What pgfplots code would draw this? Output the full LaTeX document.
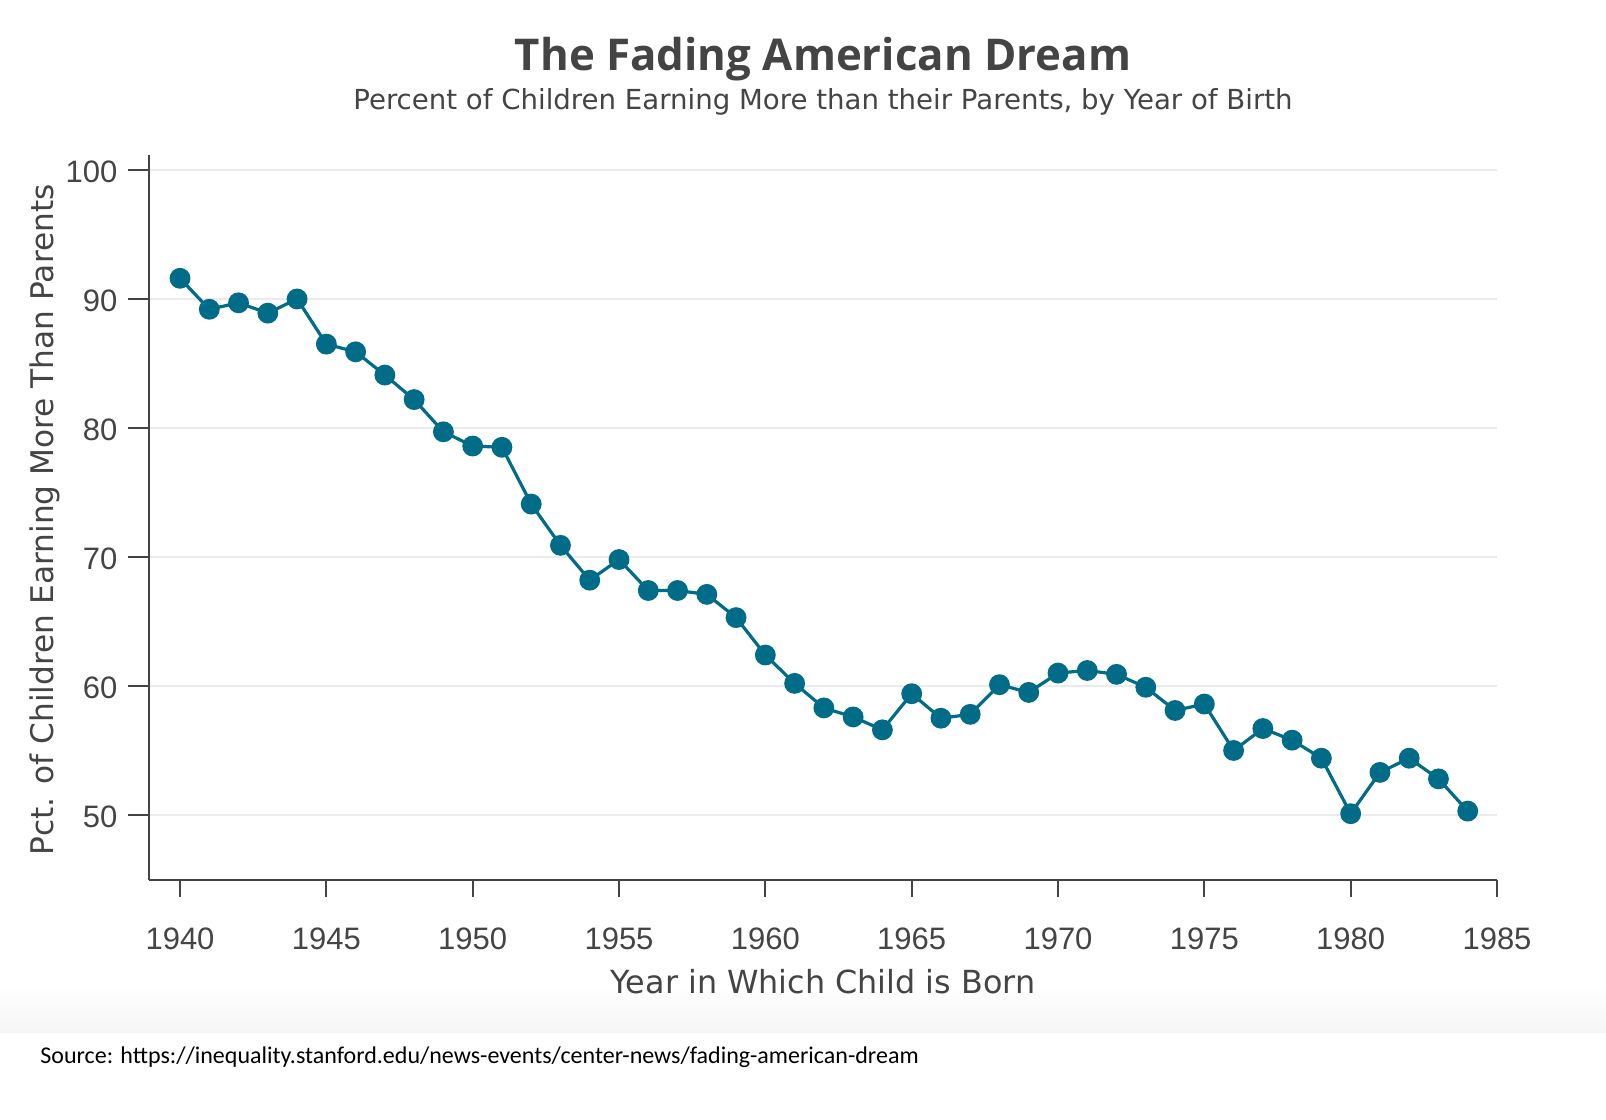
\documentclass[border=0pt]{standalone}
\usepackage{pgfplots}
\pgfplotsset{compat=1.18}
\usepackage{fontspec}
\setmainfont{Liberation Sans}
\newfontfamily\dejavu{DejaVu Sans}
\newfontfamily\opensans{Open Sans}
\newfontfamily\carlito{Carlito}

\definecolor{lineteal}{RGB}{0,108,135}
\definecolor{txt}{HTML}{444444}
\definecolor{gridc}{HTML}{EBEBEB}

\begin{document}
\begin{tikzpicture}[x=1pt,y=1pt]
% canvas, 1px = 0.5pt
\useasboundingbox (0,0) rectangle (803,559.5);
\fill[white] (0,0) rectangle (803,559.5);
\shade[top color=white, bottom color=black!4] (0,43) rectangle (803,67);

\begin{axis}[
    at={(74.5pt,119.5pt)}, anchor=south west,
    scale only axis,
    width=674pt, height=362.5pt,
    xmin=1938.94, xmax=1985,
    ymin=44.96, ymax=101.16,
    axis lines=left,
    axis line style={-, draw=txt, line width=1pt},
    xtick={1940,1945,...,1985},
    ytick={50,60,...,100},
    tick align=outside,
    tick style={draw=txt, line width=1pt},
    xtick style={/pgfplots/major tick length=8.5pt},
    ytick style={/pgfplots/major tick length=10.5pt},
    ymajorgrids,
    major grid style={draw=gridc, line width=0.8pt},
    tick label style={font=\fontsize{15.5}{15.5}\selectfont, text=txt},
    /pgf/number format/assume math mode=true,
    x tick label style={/pgf/number format/.cd, 1000 sep={}, /tikz/yshift=-16pt},
    y tick label style={xshift=-8pt, yshift=-1pt},
    clip=false,
]
\addplot[lineteal, line width=1.6pt, mark=*, mark size=4.4pt,
         mark options={fill=lineteal, draw=lineteal}] coordinates {
  (1940,91.6) (1941,89.2) (1942,89.7) (1943,88.9) (1944,90.0)
  (1945,86.5) (1946,85.9) (1947,84.1) (1948,82.2) (1949,79.7)
  (1950,78.6) (1951,78.5) (1952,74.1) (1953,70.9) (1954,68.2)
  (1955,69.8) (1956,67.4) (1957,67.4) (1958,67.1) (1959,65.3)
  (1960,62.4) (1961,60.2) (1962,58.3) (1963,57.6) (1964,56.6)
  (1965,59.4) (1966,57.5) (1967,57.8) (1968,60.1) (1969,59.5)
  (1970,61.0) (1971,61.2) (1972,60.9) (1973,59.9) (1974,58.1)
  (1975,58.6) (1976,55.0) (1977,56.7) (1978,55.8) (1979,54.4)
  (1980,50.1) (1981,53.3) (1982,54.4) (1983,52.8) (1984,50.3)
};
\end{axis}

\node[font=\opensans\bfseries\fontsize{21.9}{26}\selectfont, text=txt]
  at (411.5,530) {The Fading American Dream};
\node[font=\dejavu\fontsize{13.8}{16}\selectfont, text=txt]
  at (411.5,508.7) {Percent of Children Earning More than their Parents, by Year of Birth};
\node[font=\dejavu\fontsize{15.9}{18}\selectfont, text=txt]
  at (411.5,68.5) {Year in Which Child is Born};
\node[font=\dejavu\fontsize{15.6}{18}\selectfont, text=txt, rotate=90]
  at (22.5,299.5) {Pct. of Children Earning More Than Parents};
\node[font=\carlito\fontsize{12}{14}\selectfont, text=black, anchor=west, inner sep=0pt]
  at (20,31) {Source: https://inequality.stanford.edu/news-events/center-news/fading-american-dream};
\end{tikzpicture}
\end{document}
